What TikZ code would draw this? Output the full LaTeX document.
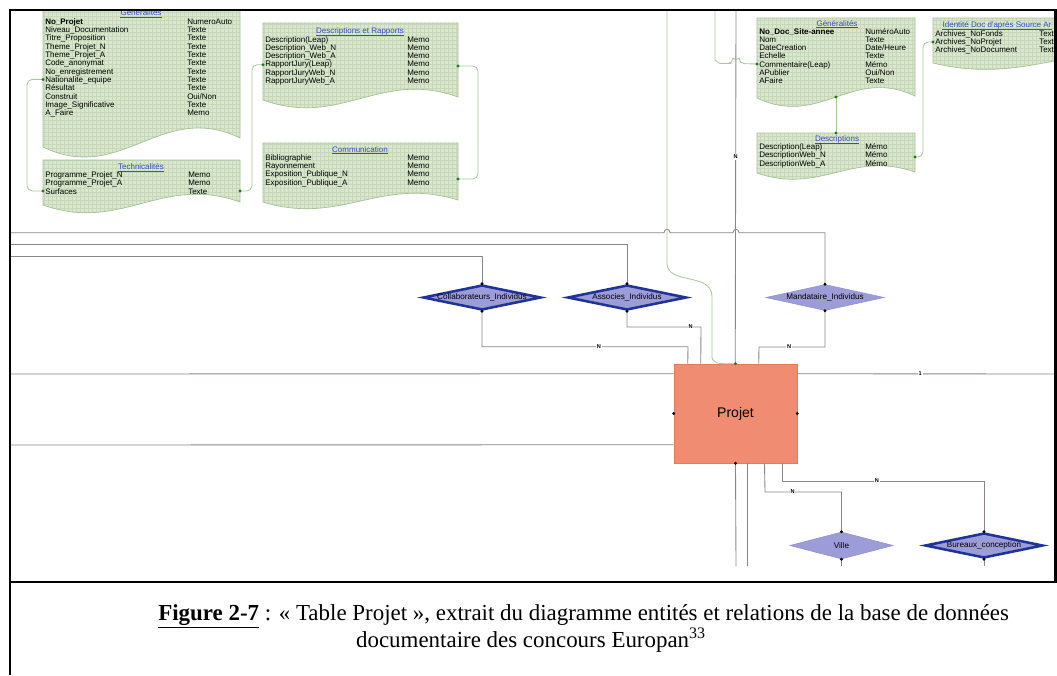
\documentclass[tikz,border=0pt]{standalone}
\usepackage{fontspec}
\setmainfont{Liberation Serif}
\newfontfamily\arialf{Liberation Sans}
\usetikzlibrary{shapes.geometric,calc}
\definecolor{tblfill}{HTML}{D9E7CF}
\definecolor{tblgrid}{HTML}{C6D8B8}
\definecolor{tbldraw}{HTML}{A6C096}
\definecolor{hdrblue}{HTML}{3A4CC8}
\definecolor{lnk}{HTML}{8E8686}
\definecolor{glnk}{HTML}{A9C99B}
\definecolor{gdot}{HTML}{1E7A1E}
\definecolor{dfill}{HTML}{9C9CD8}
\definecolor{ddark}{HTML}{1F3399}
\definecolor{dlight}{HTML}{9494D4}
\definecolor{projfill}{HTML}{F08C72}
\definecolor{projdraw}{HTML}{E8785E}
\tikzset{
  x=0.75pt, y=-0.75pt,
  tblshape/.style={fill=tblfill, draw=tbldraw, line width=0.5pt,
    path picture={\draw[tblgrid, line width=0.15pt] (path picture bounding box.south west) grid[step=3pt] (path picture bounding box.north east);}},
  tbltxt/.style={font=\arialf\fontsize{6}{7}\selectfont, inner sep=0pt, anchor=mid west, text=black},
  tblhdr/.style={font=\arialf\fontsize{6}{7}\selectfont, inner sep=0pt, anchor=mid, text=hdrblue},
  hdrline/.style={draw=hdrblue, line width=0.35pt},
  lnk/.style={draw=lnk, line width=0.65pt},
  glnk/.style={draw=glnk, line width=0.65pt, rounded corners=4pt},
  nlab/.style={fill=white, inner sep=0.6pt, font=\arialf\bfseries\fontsize{4.2}{5}\selectfont, text=black},
  diabase/.style={shape=diamond, inner sep=0pt, fill=dfill},
  diadark/.style={diabase, draw=ddark, line width=1.9pt},
  dialight/.style={diabase, draw=dlight, line width=0.5pt},
  dlab/.style={font=\arialf\fontsize{6.1}{7}\selectfont, text=black},
  frame/.style={draw=black, line width=1.8pt},
  captxt/.style={inner sep=0pt, font=\fontsize{17.2}{20}\selectfont},
}
\newcommand\erdoc[6]{% x1, top, x2, yL, yR, amp
  \path[tblshape] (#1,#2) -- (#3,#2) -- (#3,#5)
    .. controls ({#1+0.6*(#3-#1)},{#5-#6}) and ({#1+0.4*(#3-#1)},{#4+#6}) .. (#1,#4) -- cycle;}
\newcommand\errows[5]{% prefix, xname, xtype, y0, list
  \foreach \nm/\ty [count=\i] in {#5} {
    \node[tbltxt] (#1n\i) at (#2,{#4+8.3*(\i-1)}) {\nm};
    \node[tbltxt] (#1t\i) at (#3,{#4+8.3*(\i-1)}) {\ty};
  }}
\newcommand\erhdr[4]{% name, x, y, text (centred, underlined)
  \node[tblhdr] (#1) at (#2,#3) {\strut #4};
  \draw[hdrline] ($(#1.base west)+(0,1.3)$) -- ($(#1.base east)+(0,1.3)$);}
\begin{document}
\begin{tikzpicture}
\useasboundingbox (0,0) rectangle (1057,675);
\fill[white] (0,0) rectangle (1057,675);
\begin{scope}
\clip (10,10) rectangle (1055.5,582);
% ---------- tables ----------
\erdoc{43}{0}{240}{147}{138}{38}
\erhdr{hGen}{141}{12.5}{Généralités}
\errows{ga}{45}{187}{21.3}{\textbf{No\_Projet}/NumeroAuto, Niveau\_Documentation/Texte, Titre\_Proposition/Texte, Theme\_Projet\_N/Texte, Theme\_Projet\_A/Texte, Code\_anonymat/Texte, No\_enregistrement/Texte, Nationalite\_equipe/Texte, Résultat/Texte, Construit/{Oui/Non}, Image\_Significative/Texte, A\_Faire/Memo}

\erdoc{43}{160}{240}{205}{202}{28}
\erhdr{hTech}{141}{166.5}{Technicalités}
\errows{tc}{45}{188}{174.5}{Programme\_Projet\_N/Memo, Programme\_Projet\_A/Memo, Surfaces/Texte}

\erdoc{263}{23}{458}{100}{97}{28}
\erhdr{hDR}{360}{30.5}{Descriptions et Rapports}
\errows{dr}{265}{407}{39}{Description(Leap)/Memo, Description\_Web\_N/Memo, Description\_Web\_A/Memo, RapportJury(Leap)/Memo, RapportJuryWeb\_N/Memo, RapportJuryWeb\_A/Memo}

\erdoc{263}{143}{458}{202}{200}{24}
\erhdr{hCom}{360}{149}{Communication}
\errows{cm}{265}{407}{157.3}{Bibliographie/Memo, Rayonnement/Memo, Exposition\_Publique\_N/Memo, Exposition\_Publique\_A/Memo}

\erdoc{757}{18}{915}{98}{96}{30}
\erhdr{hGen2}{837}{23}{Généralités}
\errows{gb}{759}{865}{31}{\textbf{No\_Doc\_Site-annee}/NuméroAuto, Nom/Texte, DateCreation/{Date/Heure}, Echelle/Texte, Commentaire(Leap)/Mémo, APublier/{Oui/Non}, AFaire/Texte}

\erdoc{757}{133}{915}{173}{172}{22}
\erhdr{hDesc}{837}{138.5}{Descriptions}
\errows{ds}{759}{865}{146.5}{Description(Leap)/Mémo, DescriptionWeb\_N/Mémo, DescriptionWeb\_A/Mémo}

\erdoc{933}{18}{1180}{63}{58}{24}
\erhdr{hId}{997}{24.5}{Identité Doc d'après Source Ar}
\errows{id}{935}{1039}{33}{Archives\_NoFonds/Text, Archives\_NoProjet/Text, Archives\_NoDocument/Text}

% ---------- green links ----------
\coordinate (gl1a) at (43,79.4);  \coordinate (gl1b) at (43,191);
\coordinate (gl2a) at (240,191);  \coordinate (gl2b) at (263,64.7);
\coordinate (gl3a) at (458,66);   \coordinate (gl3b) at (458,179);
\coordinate (gl4a) at (836,97);   \coordinate (gl4b) at (836,133);
\coordinate (gl5a) at (915,157);  \coordinate (gl5b) at (933,42);
\coordinate (gl6a) at (715,10);   \coordinate (gl6b) at (757,64);
\coordinate (gl7a) at (667,10);
\draw[glnk] (gl1a) -- (27,79.4) -- (27,191) -- (gl1b);
\draw[glnk] (gl2a) -- (252,191) -- (252,64.7) -- (gl2b);
\draw[glnk] (gl3a) -- (478,66) -- (478,179) -- (gl3b);
\draw[glnk] (gl4a) -- (gl4b);
\draw[glnk] (gl5a) -- (923,157) -- (923,42) -- (gl5b);
\draw[glnk] (gl6a) -- (715,54) .. controls (715,60) and (718,63.5) .. (726,63.5) -- (733,63.5)
   .. controls (733,59.5) and (739,59.5) .. (739,63.5) -- (gl6b);

% ---------- relation nodes ----------
\node[diadark, minimum width=88.5pt, minimum height=18.75pt, label={[dlab]center:Collaborateurs\_Individus}] (collab) at (482,297.5) {};
\node[diadark, minimum width=89.25pt, minimum height=18.75pt, label={[dlab]center:Associes\_Individus}] (assoc) at (627,297.5) {};
\node[dialight, minimum width=88.5pt, minimum height=19.5pt, label={[dlab]center:Mandataire\_Individus}] (mand) at (825,297.5) {};
\node[dialight, minimum width=77.25pt, minimum height=20.25pt, label={[dlab]center:Ville}] (ville) at (841.5,545.5) {};
\node[diadark, minimum width=88.5pt, minimum height=18.75pt, label={[dlab]center:Bureaux\_conception}] (bur) at (984,545.5) {};
\node[fill=projfill, draw=projdraw, line width=0.4pt, minimum width=92.25pt, minimum height=74.25pt, inner sep=0pt,
  font=\arialf\fontsize{10.5}{12}\selectfont] (projet) at (735.5,413.5) {Projet};

% ---------- gray links ----------
\coordinate (lA) at (10,232.7);
\coordinate (lB) at (10,244.3);
\coordinate (lC) at (10,256.7);
\coordinate (lD) at (10,374);
\coordinate (lE) at (10,445);
\coordinate (lR) at (1056,374);
\coordinate (lT) at (736,10);
\draw[lnk] (lA) -- (664,232.7) .. controls (664,228.2) and (670,228.2) .. (670,232.7)
  -- (733,232.7) .. controls (733,228.2) and (739,228.2) .. (739,232.7) -- (825,232.7) -- (mand.north);
\draw[lnk] (lB) -- (627,244.3) -- (assoc.north);
\draw[lnk] (lC) -- (482,256.7) -- (collab.north);
\draw[lnk] (lT) -- node[nlab, pos=0.415]{N} ($(projet.north west)+(61.5,0)$);
\draw[lnk] (collab.south) -- (482,346.7) -- node[nlab, pos=0.568]{N} (688,346.7) -- ($(projet.north west)+(14,0)$);
\draw[lnk] (assoc.south) -- (627,327) -- node[nlab, pos=0.86]{N} (701,327) -- ($(projet.north west)+(27,0)$);
\draw[lnk] (mand.south) -- (825,347) -- node[nlab, pos=0.545]{N} (759,347) -- ($(projet.north west)+(85,0)$);
\draw[lnk] (lD) -- ($(projet.north west)+(0,10)$);
\draw[lnk] (lE) -- ($(projet.north west)+(0,81)$);
\draw[lnk] ($(projet.north east)+(0,10)$) -- node[nlab, pos=0.475]{1} (lR);
\coordinate (bL1) at (736,566); \coordinate (bL2) at (747,566);
\coordinate (bL3) at (841.5,566); \coordinate (bL4) at (984,566);
\draw[lnk] (projet.south) -- (bL1);
\draw[lnk] ($(projet.south)+(11.5,0)$) -- (bL2);
\draw[lnk] ($(projet.south)+(29,0)$) -- (765,492) -- node[nlab, pos=0.36]{N} (841.5,492) -- (ville.north);
\draw[lnk] ($(projet.south)+(46.5,0)$) -- (782,481) -- node[nlab, pos=0.47]{N} (984,481) -- (bur.north);
\draw[lnk] (ville.south) -- (bL3);
\draw[lnk] (bur.south) -- (bL4);

% green link into Projet
\draw[glnk] (gl7a) -- (667,258) .. controls (667,285) and (712,272) .. (712,302) -- (712,352)
   .. controls (712,360) and (716,363.5) .. (726,363.8) -- (projet.north);

% ---------- dots ----------
\foreach \p in {gl1a,gl1b,gl2a,gl2b,gl3a,gl3b,gl4a,gl4b,gl5a,gl5b,gl6b,projet.north}
  \fill[gdot] (\p) circle (1.2pt);
\foreach \p in {collab.north,collab.south,assoc.north,assoc.south,mand.north,mand.south,ville.north,ville.south,bur.north,bur.south,projet.west,projet.east,projet.south}
  \fill[black] (\p) circle (1.2pt);
\end{scope}

% ---------- frame ----------
\draw[frame] (10,10) -- (1057,10);
\draw[frame] (10,9.2) -- (10,675);
\draw[frame] (10,582) -- (1057,582);
\draw[frame] (1055.5,10) -- (1055.5,582);

% ---------- caption ----------
\node[captxt, anchor=base west] (cap1) at (158,620)
  {\underline{\textbf{Figure 2-7}} : « Table Projet », extrait du diagramme entités et relations de la base de données};
\node[captxt, anchor=base] (cap2) at (531,647)
  {documentaire des concours Europan\textsuperscript{33}};
\end{tikzpicture}
\end{document}
